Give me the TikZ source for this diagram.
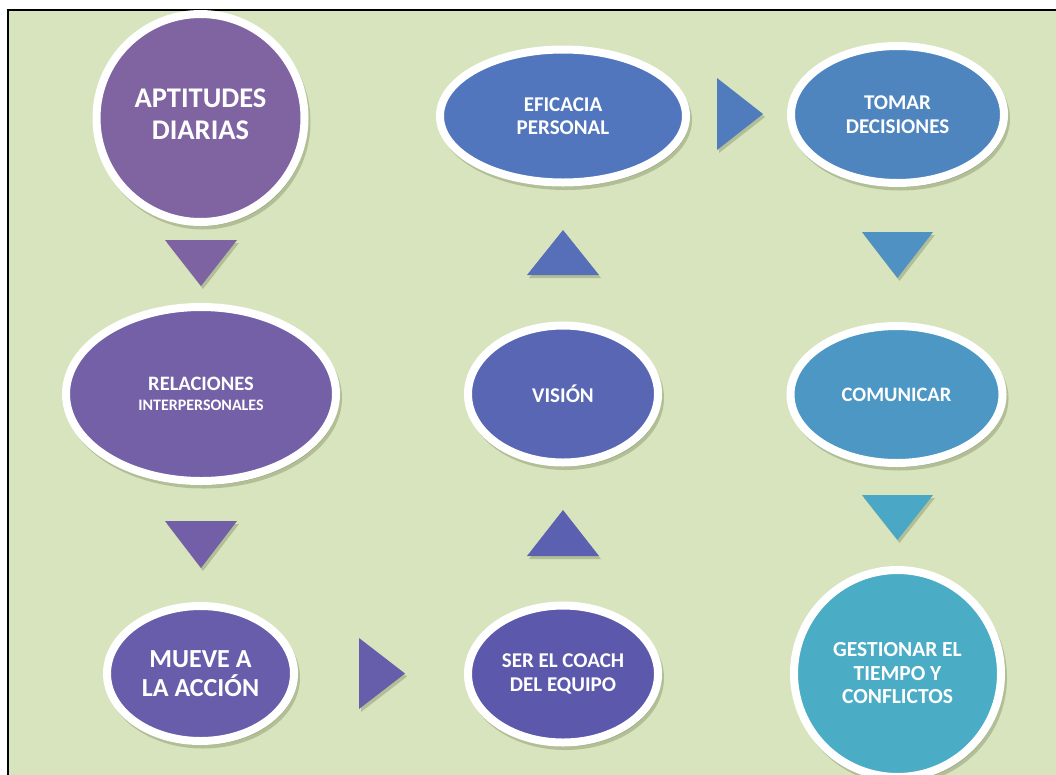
\documentclass[tikz,border=0pt]{standalone}
\usepackage{fontspec}
\setmainfont{Carlito}
\usetikzlibrary{shapes.geometric,shadows}

% palette
\definecolor{bg}{HTML}{D7E4BD}
\definecolor{shade}{HTML}{6E7A50}
\definecolor{cAp}{HTML}{8064A2}
\definecolor{cRel}{HTML}{7360A7}
\definecolor{cMue}{HTML}{685DAA}
\definecolor{cCoa}{HTML}{5C59AC}
\definecolor{cVis}{HTML}{5866B3}
\definecolor{cEfi}{HTML}{5276BD}
\definecolor{cTom}{HTML}{4F85BE}
\definecolor{cCom}{HTML}{4D97C4}
\definecolor{cGes}{HTML}{4AACC5}
\definecolor{tA}{HTML}{7E63A3}
\definecolor{tB}{HTML}{735FA8}
\definecolor{tC}{HTML}{665DAB}
\definecolor{tD}{HTML}{5B60B1}
\definecolor{tE}{HTML}{566FB8}
\definecolor{tF}{HTML}{507CBD}
\definecolor{tG}{HTML}{4E91C2}
\definecolor{tH}{HTML}{4AA8C6}

\tikzset{
  softshadow/.style={drop shadow={shadow xshift=2.5pt, shadow yshift=-4pt,
      opacity=0.35, fill=shade, draw=shade, line width=7pt}},
  blob/.style={ellipse, draw=white, line width=8pt, inner sep=0pt,
      text=white, align=center, softshadow},
  roundblob/.style={blob, circle},
  arrowtri/.style={drop shadow={shadow xshift=2pt, shadow yshift=-3pt,
      opacity=0.35, fill=shade}},
  mid/.style={font=\fontsize{21}{23.5}\selectfont\bfseries},
}

\begin{document}
\begin{tikzpicture}[x=1pt,y=-1pt]
\useasboundingbox (0,0) rectangle (1056,774);
\fill[white] (0,0) rectangle (1056,774);
\fill[bg] (8,10) rectangle (1060,780);
\draw[line width=2.5pt] (8,780) -- (8,10) -- (1060,10);

% left column
\node[roundblob, fill=cAp, minimum size=208pt, text depth=8pt,
      font=\fontsize{28.5}{32}\selectfont\bfseries] (ap) at (200.5,118)
  {APTITUDES\\DIARIAS};
\node[blob, fill=cRel, minimum width=270pt, minimum height=174pt,
      font=\fontsize{20.5}{20}\selectfont\bfseries] (rel) at (201,394)
  {RELACIONES\\\fontsize{16}{18}\selectfont INTERPERSONALES};
\node[blob, fill=cMue, minimum width=187pt, minimum height=135pt,
      font=\fontsize{26}{29}\selectfont\bfseries] (mue) at (200.5,673.5)
  {MUEVE A\\LA ACCIÓN};

% middle column
\node[blob, fill=cCoa, minimum width=190pt, minimum height=137pt, mid] (coa) at (563,674)
  {SER EL COACH\\DEL EQUIPO};
\node[blob, fill=cVis, minimum width=190pt, minimum height=137pt, mid] (vis) at (563,394)
  {VISIÓN};
\node[blob, fill=cEfi, minimum width=246pt, minimum height=133pt, mid] (efi) at (563,116)
  {EFICACIA\\PERSONAL};

% right column
\node[blob, fill=cTom, minimum width=213pt, minimum height=137pt, mid] (tom) at (897.5,114.5)
  {TOMAR\\DECISIONES};
\node[blob, fill=cCom, minimum width=212pt, minimum height=137pt,
      font=\fontsize{20.5}{23.5}\selectfont\bfseries] (com) at (896.5,394.5)
  {COMUNICAR};
\node[roundblob, fill=cGes, minimum size=207pt,
      font=\fontsize{21.5}{23.5}\selectfont\bfseries] (ges) at (897.5,673.5)
  {GESTIONAR EL\\TIEMPO Y\\CONFLICTOS};

% flow arrows between the shapes
\fill[tA, arrowtri] (165,240) -- (237,240) -- (201,286) -- cycle;
\fill[tB, arrowtri] (165,521) -- (237,521) -- (201,568) -- cycle;
\fill[tC, arrowtri] (359,638) -- (405,673.5) -- (359,709) -- cycle;
\fill[tD, arrowtri] (527,556) -- (599,556) -- (563,510) -- cycle;
\fill[tE, arrowtri] (527,275) -- (599,275) -- (563,230) -- cycle;
\fill[tF, arrowtri] (717,78) -- (763,114) -- (717,150) -- cycle;
\fill[tG, arrowtri] (862,232) -- (933,232) -- (897.5,278) -- cycle;
\fill[tH, arrowtri] (862,495) -- (933,495) -- (897.5,540) -- cycle;
\end{tikzpicture}
\end{document}
